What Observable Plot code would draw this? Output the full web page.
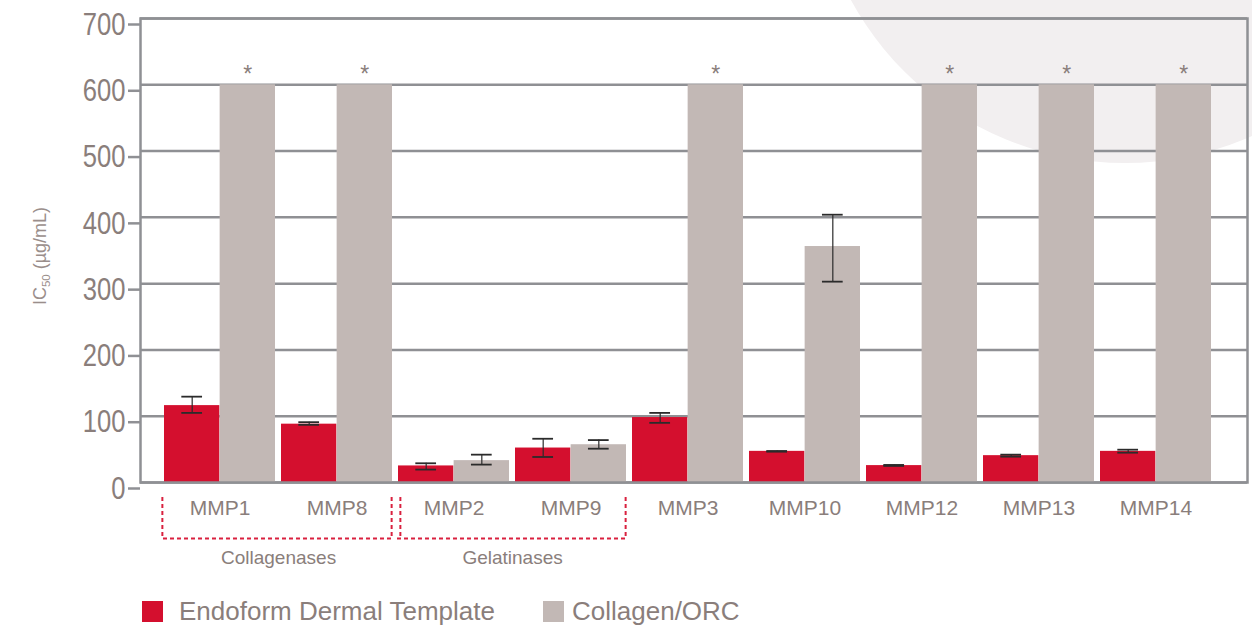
<!DOCTYPE html>
<html>
<head>
<meta charset="utf-8">
<script src="https://cdn.jsdelivr.net/npm/d3@7"></script>
<script src="https://cdn.jsdelivr.net/npm/@observablehq/plot@0.6"></script>
<style>
  html, body { margin: 0; padding: 0; background: #fff; }
  #wrap { position: relative; width: 1252px; height: 626px; overflow: hidden; background: #fff;
          font-family: "Liberation Sans", Arial, Helvetica, sans-serif; }
  #circle { position: absolute; left: 813px; top: -461px; width: 624px; height: 624px;
            border-radius: 50%; background: #f2eff0; }
  #chart { position: absolute; left: 0; top: 0; }
  #legend { position: absolute; left: 142px; top: 597px; display: flex; align-items: center;
            font-size: 26px; line-height: 28px; color: #8a7e7b; white-space: nowrap; }
  #legend .sw { width: 21px; height: 21px; display: inline-block; }
  #legend .item { display: flex; align-items: center; }
</style>
</head>
<body>
<div id="wrap">
  <div id="circle"></div>
  <div id="chart"></div>
  <div id="legend"></div>
</div>
<script>
// ---- data ----
const categories = ["MMP1", "MMP8", "MMP2", "MMP9", "MMP3", "MMP10", "MMP12", "MMP13", "MMP14"];
const endoform     = [116, 88, 25, 52, 98, 47, 25.5, 40.5, 47];
const endoformLow  = [105, 87, 19.5, 38.5, 90, 46.5, 25, 39, 45];
const endoformHigh = [129.5, 91, 29, 66, 105, 47.5, 26.5, 42, 49.5];
const collagenORC  = [600, 600, 33, 57, 600, 356, 600, 600, 600];
const collagenLow  = [null, null, 27, 51, null, 303, null, null, null];
const collagenHigh = [null, null, 42, 64, null, 404, null, null, null];
const significant  = [true, true, false, false, true, false, true, true, true];
const groupLabels  = ["Collagenases", "Gelatinases"];
const groupFrom    = ["MMP1", "MMP2"];
const groupTo      = ["MMP8", "MMP9"];
const yTicks = [0, 100, 200, 300, 400, 500, 600, 700];
const seriesNames = ["Endoform Dermal Template", "Collagen/ORC"];
const seriesColors = ["#d40f2e", "#c2b8b5"];

// ---- tables ----
const rows = categories.map((c, i) => ({
  cat: c, endo: endoform[i], endoLow: endoformLow[i], endoHigh: endoformHigh[i],
  coll: collagenORC[i], collLow: collagenLow[i], collHigh: collagenHigh[i], sig: significant[i]
}));
const collErr = rows.filter(d => d.collLow != null);
const groups = groupLabels.map((g, i) => ({label: g, from: groupFrom[i], to: groupTo[i]}));

// ---- layout ----
const W = 1252, H = 580, mL = 140, mR = 5, mT = 18, mB = 98;
const xRange = [158, 1218], pad = 0.05;
const step = (xRange[1] - xRange[0]) / (categories.length + pad);
const bw = step * (1 - pad);
const textColor = "#8a7e7b";
const gridColor = "#8f9094";
const errColor = "#2b2b2b";
const capInner = bw / 4 - 10.5, capOuter = bw - (bw / 4 + 10.5);
const redDash = "#d9213f";

const chart = Plot.plot({
  width: W, height: H,
  marginLeft: mL, marginRight: mR, marginTop: mT, marginBottom: mB,
  style: {background: "transparent", fontFamily: '"Liberation Sans", Arial, Helvetica, sans-serif', color: textColor, overflow: "visible"},
  x: {type: "band", domain: categories, range: xRange, padding: pad, label: null},
  y: {domain: [0, 700], label: null},
  marks: [
    Plot.gridY(yTicks, {stroke: gridColor, strokeWidth: 2.5, strokeOpacity: 1}),
    Plot.barY(rows, {x: "cat", y: "endo", fill: seriesColors[0], insetLeft: 0, insetRight: bw / 2}),
    Plot.barY(rows, {x: "cat", y: "coll", fill: seriesColors[1], insetLeft: bw / 2, insetRight: 0}),
    // error bars Endoform
    Plot.ruleX(rows, {x: "cat", y1: "endoLow", y2: "endoHigh", dx: -bw / 4, stroke: errColor, strokeWidth: 1.2}),
    Plot.tickY(rows, {x: "cat", y: "endoLow", insetLeft: capInner, insetRight: capOuter, stroke: errColor, strokeWidth: 1.8}),
    Plot.tickY(rows, {x: "cat", y: "endoHigh", insetLeft: capInner, insetRight: capOuter, stroke: errColor, strokeWidth: 1.8}),
    // error bars Collagen/ORC
    Plot.ruleX(collErr, {x: "cat", y1: "collLow", y2: "collHigh", dx: bw / 4, stroke: errColor, strokeWidth: 1.2}),
    Plot.tickY(collErr, {x: "cat", y: "collLow", insetLeft: capOuter, insetRight: capInner, stroke: errColor, strokeWidth: 1.8}),
    Plot.tickY(collErr, {x: "cat", y: "collHigh", insetLeft: capOuter, insetRight: capInner, stroke: errColor, strokeWidth: 1.8}),
    // significance asterisks
    Plot.text(rows.filter(d => d.sig), {x: "cat", y: "coll", text: () => "*", dx: bw / 4, dy: -10, fontSize: 23, fill: textColor}),
    Plot.frame({stroke: gridColor, strokeWidth: 2.5}),
    Plot.axisY(yTicks, {tickSize: 12, tickPadding: 3, fontSize: 32, dy: 6, fill: textColor, stroke: gridColor, strokeWidth: 2.5,
      fontFamily: '"Liberation Sans Narrow", "Arial Narrow", "Liberation Sans", sans-serif', label: null}),
    Plot.axisX({tickSize: 0, tickPadding: 18, fontSize: 21, fill: textColor, label: null}),
    // group brackets
    Plot.ruleY(groups, {x1: "from", x2: "to", y: 0, dy: 56, insetLeft: -1, insetRight: 1, stroke: redDash, strokeWidth: 2, strokeDasharray: "4,3"}),
    Plot.ruleX([groups[0]], {x: "from", dx: -bw / 2 - 2, insetTop: (H - mB - mT) + 15, insetBottom: -56, stroke: redDash, strokeWidth: 2, strokeDasharray: "4,3"}),
    Plot.ruleX([groups[1]], {x: "from", dx: -bw / 2 + 2, insetTop: (H - mB - mT) + 15, insetBottom: -56, stroke: redDash, strokeWidth: 2, strokeDasharray: "4,3"}),
    Plot.ruleX(groups, {x: "to", dx: bw / 2 - 1, insetTop: (H - mB - mT) + 15, insetBottom: -56, stroke: redDash, strokeWidth: 2, strokeDasharray: "4,3"}),
    Plot.text(groups, {x: "from", y: 0, text: "label", dx: step / 2, dy: 75, fontSize: 19, fill: textColor})
  ]
});
document.getElementById("chart").appendChild(chart);

const svg = d3.select(chart);

// condense the y tick labels (narrow face as in the reference)
svg.selectAll('g[aria-label="y-axis tick label"] text').each(function() {
  const w = this.getComputedTextLength();
  if (w > 0) {
    this.setAttribute("textLength", (w * 0.8).toFixed(1));
    this.setAttribute("lengthAdjust", "spacingAndGlyphs");
  }
});

// y-axis title with subscript
const t = svg.append("text")
  .attr("transform", "translate(46,256) rotate(-90)")
  .attr("text-anchor", "middle")
  .attr("fill", "#9a8e8b")
  .attr("font-size", 18)
  .attr("font-family", '"Liberation Sans", Arial, sans-serif');
t.append("tspan").text("IC");
t.append("tspan").attr("font-size", 11.5).attr("dy", 4).text("50");
t.append("tspan").attr("dy", -4).text(" (µg/mL)");

// legend
const legend = d3.select("#legend");
const swGap = [16, 8], itemGap = [48, 0];
seriesNames.forEach((name, i) => {
  const it = legend.append("div").attr("class", "item").style("margin-right", itemGap[i] + "px");
  it.append("span").attr("class", "sw").style("background", seriesColors[i]).style("margin-right", swGap[i] + "px");
  it.append("span").text(name);
});
</script>
</body>
</html>
